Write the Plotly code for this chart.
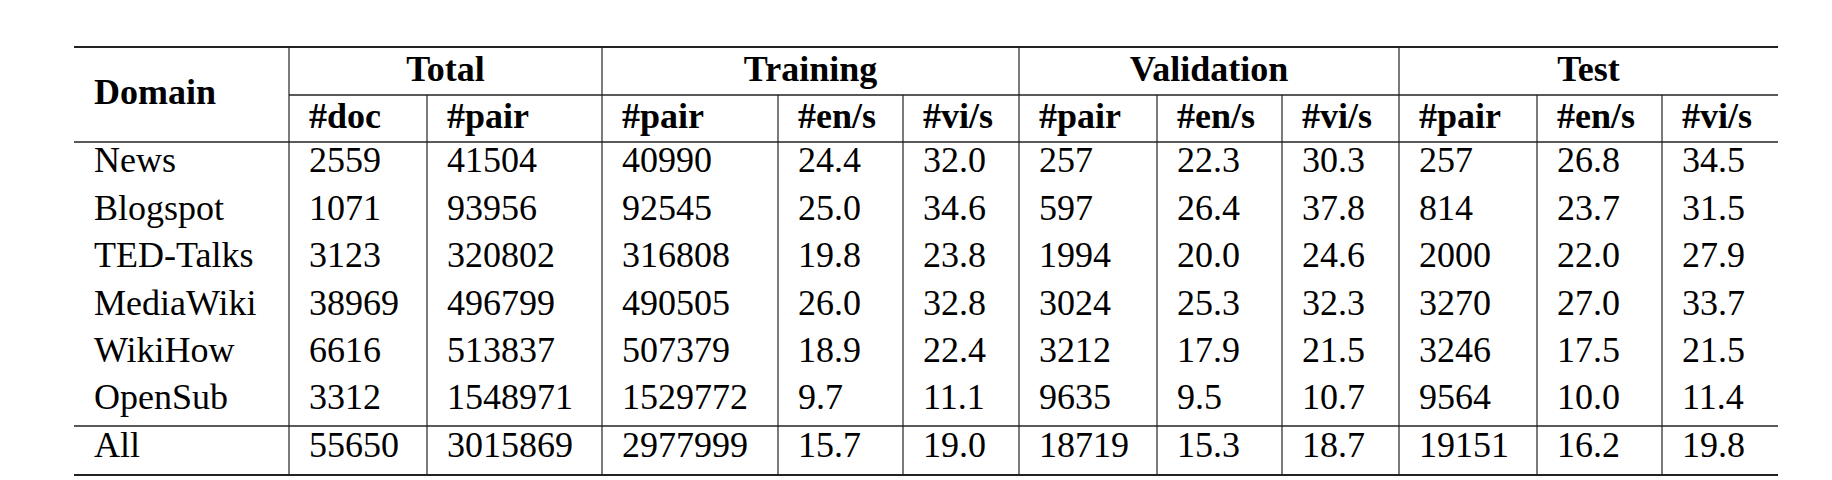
import plotly.graph_objects as go

# table content
domains = ["News", "Blogspot", "TED-Talks", "MediaWiki", "WikiHow", "OpenSub", "All"]
groups = ["Total", "Training", "Validation", "Test"]
sub_headers = ["#doc", "#pair", "#pair", "#en/s", "#vi/s", "#pair", "#en/s", "#vi/s", "#pair", "#en/s", "#vi/s"]
total_doc = ["2559", "1071", "3123", "38969", "6616", "3312", "55650"]
total_pair = ["41504", "93956", "320802", "496799", "513837", "1548971", "3015869"]
train_pair = ["40990", "92545", "316808", "490505", "507379", "1529772", "2977999"]
train_en = ["24.4", "25.0", "19.8", "26.0", "18.9", "9.7", "15.7"]
train_vi = ["32.0", "34.6", "23.8", "32.8", "22.4", "11.1", "19.0"]
valid_pair = ["257", "597", "1994", "3024", "3212", "9635", "18719"]
valid_en = ["22.3", "26.4", "20.0", "25.3", "17.9", "9.5", "15.3"]
valid_vi = ["30.3", "37.8", "24.6", "32.3", "21.5", "10.7", "18.7"]
test_pair = ["257", "814", "2000", "3270", "3246", "9564", "19151"]
test_en = ["26.8", "23.7", "22.0", "27.0", "17.5", "10.0", "16.2"]
test_vi = ["34.5", "31.5", "27.9", "33.7", "21.5", "11.4", "19.8"]

columns = [total_doc, total_pair, train_pair, train_en, train_vi,
           valid_pair, valid_en, valid_vi, test_pair, test_en, test_vi]

# geometry in pixels
W, H = 1832, 480
edges = [66, 281, 419, 594, 770, 895, 1011, 1149, 1274, 1391, 1529, 1654, 1770]
group_spans = [(281, 594), (594, 1011), (1011, 1391), (1391, 1770)]
y_top, y_mid, y_head, y_all, y_bot = 39, 87, 134, 418, 467
row_y = [155, 203, 250, 298, 345, 392, 440]
pad = 20
FONT = "'Liberation Serif', 'DejaVu Serif', 'Times New Roman', serif"
fs = 36

fig = go.Figure()

# body text
fig.add_trace(go.Scatter(x=[edges[0] + pad] * len(domains), y=row_y, mode="text",
                         text=domains, textposition="middle right",
                         textfont=dict(family=FONT, size=fs, color="black"), hoverinfo="skip"))
for ci, col in enumerate(columns):
    fig.add_trace(go.Scatter(x=[edges[ci + 1] + pad] * len(col), y=row_y, mode="text",
                             text=col, textposition="middle right",
                             textfont=dict(family=FONT, size=fs, color="black"), hoverinfo="skip"))

# headers
fig.add_trace(go.Scatter(x=[edges[0] + pad], y=[(y_top + y_head) / 2], mode="text",
                         text=["<b>Domain</b>"], textposition="middle right",
                         textfont=dict(family=FONT, size=fs, color="black"), hoverinfo="skip"))
fig.add_trace(go.Scatter(x=[(a + b) / 2 for a, b in group_spans], y=[(y_top + y_mid) / 2 + 1] * 4,
                         mode="text", text=["<b>%s</b>" % g for g in groups], textposition="middle center",
                         textfont=dict(family=FONT, size=fs, color="black"), hoverinfo="skip"))
fig.add_trace(go.Scatter(x=[e + pad for e in edges[1:-1]], y=[(y_mid + y_head) / 2] * len(sub_headers),
                         mode="text", text=["<b>%s</b>" % s for s in sub_headers], textposition="middle right",
                         textfont=dict(family=FONT, size=fs, color="black"), hoverinfo="skip"))

# rules
def hline(y, x0, x1, w):
    fig.add_shape(type="line", x0=x0, x1=x1, y0=y, y1=y, line=dict(color="#222", width=w))

hline(y_top, edges[0], edges[-1], 2.2)
hline(y_mid, edges[1], edges[-1], 1.5)
hline(y_head, edges[0], edges[-1], 1.5)
hline(y_all, edges[0], edges[-1], 1.5)
hline(y_bot, edges[0], edges[-1], 2.2)

full = {281, 594, 1011, 1391}
for e in edges[1:-1]:
    y0 = y_top if e in full else y_mid
    fig.add_shape(type="line", x0=e, x1=e, y0=y0, y1=y_bot, line=dict(color="#222", width=1.2))

fig.update_layout(
    width=W, height=H, margin=dict(l=0, r=0, t=0, b=0),
    plot_bgcolor="white", paper_bgcolor="white", showlegend=False,
    font=dict(family=FONT),
    xaxis=dict(range=[0, W], visible=False, fixedrange=True),
    yaxis=dict(range=[H, 0], visible=False, fixedrange=True),
)

fig.write_html("out.html")
